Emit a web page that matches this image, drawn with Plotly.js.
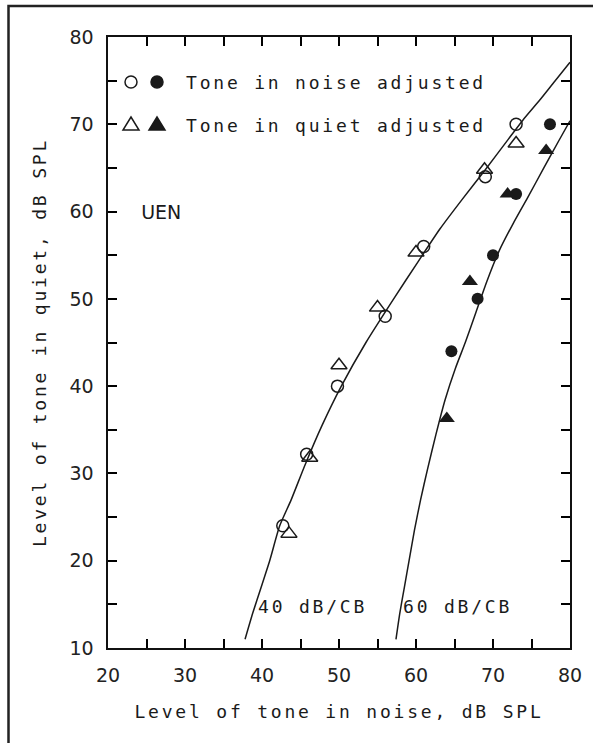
<!DOCTYPE html>
<html><head><meta charset="utf-8">
<script src="https://cdn.plot.ly/plotly-3.0.1.min.js"></script>
<style>
html,body{margin:0;padding:0;background:#fff;}
#chart{width:593px;height:743px;}
.xtitle,.ytitle,.annotation-text{letter-spacing:2.8px;}
.annotation[data-index="4"] .annotation-text{letter-spacing:0;}
</style>
</head><body><div id="chart"></div>
<script>
// Curves (model predictions)
const curve40X = [37.8, 38.8, 39.9, 41.0, 42.3, 43.8, 45.6, 47.8, 50.3, 53.5, 57.1, 60.3, 63.1, 66.0, 69.0, 72.0, 73.9, 76.1, 78.0, 80.0];
const curve40Y = [11, 14, 17, 20, 24, 27, 31, 35.5, 40, 45, 50, 54.3, 58, 61.4, 64.8, 68.3, 70.5, 72.8, 74.9, 77.1];
const curve60X = [57.4, 57.9, 58.5, 59.1, 59.8, 60.6, 61.5, 62.6, 63.8, 65.1, 66.4, 67.8, 69.2, 70.8, 72.6, 74.5, 76.6, 78.6, 80.0];
const curve60Y = [11, 14, 17, 20, 23.5, 27, 30.5, 34.5, 38.5, 42, 45, 48.5, 52, 55.5, 58.6, 61.6, 65.0, 68.2, 70.4];

// Tone in noise adjusted: open = 40 dB/CB, filled = 60 dB/CB
const noiseOpenX = [42.7, 45.8, 49.8, 56.0, 61.0, 69.0, 73.0];
const noiseOpenY = [24.0, 32.2, 40.0, 48.0, 56.0, 64.0, 70.0];
const noiseFillX = [64.6, 68.0, 70.0, 73.0, 77.4];
const noiseFillY = [44.0, 50.0, 55.0, 62.0, 70.0];

// Tone in quiet adjusted: open = 40 dB/CB, filled = 60 dB/CB
const quietOpenX = [43.5, 46.2, 50.0, 55.0, 60.0, 68.9, 73.0];
const quietOpenY = [23.1, 31.8, 42.4, 49.0, 55.3, 64.8, 67.8];
const quietFillX = [64.0, 67.0, 71.9, 76.9];
const quietFillY = [36.3, 52.0, 62.0, 67.0];

const tickVals = [10,15,20,25,30,35,40,45,50,55,60,65,70,75,80];
const tickText = ['10','','20','','30','','40','','50','','60','','70','','80'];
const legendLabels = ['Tone in noise adjusted', 'Tone in quiet adjusted'];
const curveLabels = ['40 dB/CB', '60 dB/CB'];
const panelLabel = 'UEN';

const ink = '#1a1a1a';
const mono = 'DejaVu Sans Mono';
const sans = 'DejaVu Sans';

const traces = [
  {x: curve40X, y: curve40Y, mode: 'lines', line: {color: ink, width: 1.5, shape: 'spline', smoothing: 0.6}},
  {x: curve60X, y: curve60Y, mode: 'lines', line: {color: ink, width: 1.5, shape: 'spline', smoothing: 0.6}},
  {x: noiseOpenX, y: noiseOpenY, mode: 'markers', marker: {symbol: 'circle-open', size: 12, color: ink, line: {width: 1.5, color: ink}}},
  {x: quietOpenX, y: quietOpenY, mode: 'markers', marker: {symbol: 'triangle-up-open', size: 14, color: ink, line: {width: 1.5, color: ink}}},
  {x: noiseFillX, y: noiseFillY, mode: 'markers', marker: {symbol: 'circle', size: 12, color: ink}},
  {x: quietFillX, y: quietFillY, mode: 'markers', marker: {symbol: 'triangle-up', size: 14, color: ink}}
];

// plot area in pixels: x 108..570, y 37..648
const L = 108, T = 37, W = 462, H = 611;
const px = v => (v - L) / W;
const py = v => (T + H - v) / H;

function circ(xp, yp, filled) {
  return {type: 'circle', xref: 'paper', yref: 'paper', xsizemode: 'pixel', ysizemode: 'pixel',
    xanchor: px(xp), yanchor: py(yp), x0: -6, x1: 6, y0: -6, y1: 6,
    line: {color: ink, width: 1.5}, fillcolor: filled ? ink : 'rgba(0,0,0,0)'};
}
function tri(xp, yp, filled) {
  return {type: 'path', xref: 'paper', yref: 'paper', xsizemode: 'pixel', ysizemode: 'pixel',
    xanchor: px(xp), yanchor: py(yp), path: 'M-8,-4 L8,-4 L0,9 Z',
    line: {color: ink, width: 1.5}, fillcolor: filled ? ink : 'rgba(0,0,0,0)'};
}

const shapes = [
  {type: 'rect', xref: 'paper', yref: 'paper', x0: px(8.5), x1: px(620), y0: py(6), y1: py(780),
   line: {color: '#222', width: 2.5}, layer: 'above'},
  circ(131, 82, false), circ(157, 82, true),
  tri(131, 126, false), tri(157, 126, true)
];

const annFont = {family: mono, size: 18, color: ink};
const annotations = [
  {xref: 'paper', yref: 'paper', x: px(184), y: py(82), xanchor: 'left', yanchor: 'middle', text: legendLabels[0], showarrow: false, font: annFont},
  {xref: 'paper', yref: 'paper', x: px(184), y: py(126), xanchor: 'left', yanchor: 'middle', text: legendLabels[1], showarrow: false, font: annFont},
  {xref: 'x', yref: 'y', x: 39.2, y: 14.8, xanchor: 'left', yanchor: 'middle', text: curveLabels[0], showarrow: false, font: annFont},
  {xref: 'x', yref: 'y', x: 58.1, y: 14.8, xanchor: 'left', yanchor: 'middle', text: curveLabels[1], showarrow: false, font: annFont},
  {xref: 'x', yref: 'y', x: 23.5, y: 60, xanchor: 'left', yanchor: 'middle', text: panelLabel, showarrow: false, font: {family: sans, size: 19, color: ink}}
];

const axisCommon = {
  ticks: 'inside', ticklen: 9, tickwidth: 2, tickcolor: '#000',
  showline: true, linewidth: 1.6, linecolor: '#111', mirror: 'ticks',
  showgrid: false, zeroline: false, tickmode: 'array',
  tickfont: {family: sans, size: 19, color: '#222'}
};

const layout = {
  width: 593, height: 743,
  margin: {l: L, r: 593 - L - W, t: T, b: 743 - T - H},
  paper_bgcolor: '#fff', plot_bgcolor: '#fff',
  showlegend: false,
  xaxis: Object.assign({}, axisCommon, {range: [20, 80], tickvals: tickVals.slice(2), ticktext: tickText.slice(2),
    ticklabelstandoff: 10,
    title: {text: 'Level of tone in noise, dB SPL', font: {family: mono, size: 18, color: ink}, standoff: 20}}),
  yaxis: Object.assign({}, axisCommon, {range: [10, 80], tickvals: tickVals, ticktext: tickText,
    ticklabelstandoff: 9,
    title: {text: 'Level of tone in quiet, dB SPL', font: {family: mono, size: 18, color: ink}, standoff: 18}}),
  shapes: shapes,
  annotations: annotations
};

Plotly.newPlot('chart', traces, layout, {staticPlot: true, displayModeBar: false});
</script>
</body></html>
